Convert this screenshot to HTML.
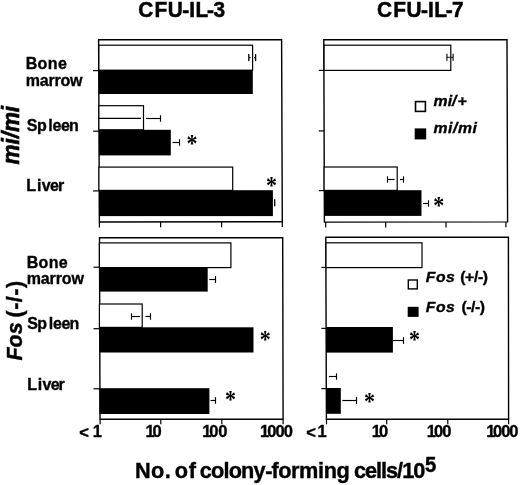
<!DOCTYPE html>
<html><head><meta charset="utf-8"><title>CFU-IL-3 / CFU-IL-7</title>
<style>html,body{margin:0;padding:0;background:#fff}svg{display:block}text{font-family:"Liberation Sans",sans-serif;font-weight:bold;fill:#000;font-kerning:none}.i{font-style:italic}.s{font-family:"Liberation Serif",serif;font-weight:bold}</style></head><body>
<svg width="520" height="485" viewBox="0 0 520 485">
<rect width="520" height="485" fill="#fff"/>
<path d="M99.4 222.0 L98.6 39.6 L281.6 39.8 L282.3 221.7 Z" fill="none" stroke="#000" stroke-width="1.4"/>
<line x1="99.4" y1="222.0" x2="99.4" y2="227.4" stroke="#000" stroke-width="1.2"/>
<line x1="160.6" y1="221.9" x2="160.6" y2="227.3" stroke="#000" stroke-width="1.2"/>
<line x1="221.6" y1="221.8" x2="221.6" y2="227.2" stroke="#000" stroke-width="1.2"/>
<line x1="282.3" y1="221.7" x2="282.3" y2="227.1" stroke="#000" stroke-width="1.2"/>
<line x1="93.1" y1="70.6" x2="98.9" y2="70.6" stroke="#000" stroke-width="1.2"/>
<line x1="93.1" y1="131.2" x2="98.9" y2="131.2" stroke="#000" stroke-width="1.2"/>
<line x1="93.1" y1="190.9" x2="98.9" y2="190.9" stroke="#000" stroke-width="1.2"/>
<rect x="98.9" y="45.2" width="153.7" height="25.0" fill="#fff" stroke="#000" stroke-width="1.2"/>
<line x1="248.8" y1="57.6" x2="250.6" y2="57.6" stroke="#000" stroke-width="1.1"/>
<line x1="254.0" y1="57.6" x2="255.6" y2="57.6" stroke="#000" stroke-width="1.1"/>
<line x1="248.8" y1="54.1" x2="248.8" y2="61.1" stroke="#000" stroke-width="1.3"/>
<line x1="255.6" y1="54.1" x2="255.6" y2="61.1" stroke="#000" stroke-width="1.3"/>
<rect x="98.9" y="70.0" width="153.9" height="24.0" fill="#000"/>
<rect x="98.9" y="105.7" width="44.6" height="24.1" fill="#fff" stroke="#000" stroke-width="1.2"/>
<line x1="98.9" y1="118.4" x2="141.0" y2="118.4" stroke="#000" stroke-width="1.2"/>
<line x1="146.0" y1="118.5" x2="160.5" y2="118.5" stroke="#000" stroke-width="1.15"/>
<line x1="160.5" y1="115.3" x2="160.5" y2="121.7" stroke="#000" stroke-width="1.15"/>
<rect x="98.9" y="129.8" width="71.9" height="25.6" fill="#000"/>
<line x1="172.5" y1="142.5" x2="179.5" y2="142.5" stroke="#000" stroke-width="1.15"/>
<line x1="179.5" y1="139.3" x2="179.5" y2="145.7" stroke="#000" stroke-width="1.15"/>
<text class="s" transform="translate(192,140.3) scale(1,1.14)" x="-5.5" y="10.37" font-size="22">*</text>
<rect x="98.9" y="167.1" width="133.8" height="23.3" fill="#fff" stroke="#000" stroke-width="1.2"/>
<rect x="98.9" y="190.2" width="174.0" height="25.9" fill="#000"/>
<line x1="274.7" y1="199.2" x2="274.7" y2="206.2" stroke="#000" stroke-width="1.3"/>
<text class="s" transform="translate(271.6,181.9) scale(1,1.14)" x="-5.5" y="10.37" font-size="22">*</text>
<path d="M324.4 222.1 L323.8 39.7 L507.0 39.8 L507.6 221.9 Z" fill="none" stroke="#000" stroke-width="1.4"/>
<line x1="325.7" y1="222.1" x2="325.7" y2="227.5" stroke="#000" stroke-width="1.2"/>
<line x1="385.7" y1="222.0" x2="385.7" y2="227.4" stroke="#000" stroke-width="1.2"/>
<line x1="446.0" y1="222.0" x2="446.0" y2="227.4" stroke="#000" stroke-width="1.2"/>
<line x1="505.9" y1="221.9" x2="505.9" y2="227.3" stroke="#000" stroke-width="1.2"/>
<line x1="318.8" y1="70.4" x2="324.1" y2="70.4" stroke="#000" stroke-width="1.2"/>
<line x1="318.8" y1="130.9" x2="324.1" y2="130.9" stroke="#000" stroke-width="1.2"/>
<line x1="318.8" y1="190.6" x2="324.1" y2="190.6" stroke="#000" stroke-width="1.2"/>
<rect x="324.1" y="45.2" width="126.7" height="25.2" fill="#fff" stroke="#000" stroke-width="1.2"/>
<line x1="446.9" y1="57.3" x2="453.1" y2="57.3" stroke="#000" stroke-width="0.9"/>
<line x1="446.9" y1="53.8" x2="446.9" y2="60.8" stroke="#000" stroke-width="1.1"/>
<line x1="453.1" y1="53.8" x2="453.1" y2="60.8" stroke="#000" stroke-width="1.1"/>
<rect x="415.5" y="101.6" width="9.9" height="9.8" fill="#fff" stroke="#000" stroke-width="1.6"/>
<rect x="414.7" y="128.4" width="11.5" height="11.0" fill="#000"/>
<text transform="translate(0,105.9) scale(1.04,1)" x="416.86 430.44 434.73 439.84" y="0" font-size="15.2" class="i" stroke="#000" stroke-width="0.35">mi/+</text>
<text transform="translate(0,133.1) scale(1.04,1)" x="416.86 430.85 435.56 440.27 454.27" y="0" font-size="15.2" class="i" stroke="#000" stroke-width="0.35">mi/mi</text>
<rect x="324.1" y="167.0" width="73.1" height="23.4" fill="#fff" stroke="#000" stroke-width="1.2"/>
<line x1="394.5" y1="179.5" x2="387.5" y2="179.5" stroke="#000" stroke-width="1.15"/>
<line x1="387.5" y1="176.3" x2="387.5" y2="182.7" stroke="#000" stroke-width="1.15"/>
<line x1="400.0" y1="179.5" x2="403.5" y2="179.5" stroke="#000" stroke-width="1.15"/>
<line x1="403.5" y1="176.3" x2="403.5" y2="182.7" stroke="#000" stroke-width="1.15"/>
<rect x="324.1" y="190.2" width="97.4" height="25.7" fill="#000"/>
<line x1="423.0" y1="203.5" x2="428.5" y2="203.5" stroke="#000" stroke-width="1.15"/>
<line x1="428.5" y1="200.3" x2="428.5" y2="206.7" stroke="#000" stroke-width="1.15"/>
<text class="s" transform="translate(438.8,202) scale(1,1.14)" x="-5.5" y="10.37" font-size="22">*</text>
<path d="M100.0 419.3 L99.5 237.7 L282.7 237.7 L283.1 419.3 Z" fill="none" stroke="#000" stroke-width="1.4"/>
<line x1="100.1" y1="419.3" x2="100.1" y2="424.3" stroke="#000" stroke-width="1.2"/>
<line x1="160.8" y1="419.3" x2="160.8" y2="424.3" stroke="#000" stroke-width="1.2"/>
<line x1="221.8" y1="419.3" x2="221.8" y2="424.3" stroke="#000" stroke-width="1.2"/>
<line x1="283.1" y1="419.3" x2="283.1" y2="424.3" stroke="#000" stroke-width="1.2"/>
<line x1="93.5" y1="267.2" x2="99.4" y2="267.2" stroke="#000" stroke-width="1.2"/>
<line x1="93.5" y1="328.7" x2="99.4" y2="328.7" stroke="#000" stroke-width="1.2"/>
<line x1="93.5" y1="388.8" x2="99.4" y2="388.8" stroke="#000" stroke-width="1.2"/>
<rect x="99.4" y="242.9" width="131.5" height="24.7" fill="#fff" stroke="#000" stroke-width="1.2"/>
<rect x="99.4" y="267.0" width="108.3" height="24.6" fill="#000"/>
<line x1="209.3" y1="279.5" x2="215.5" y2="279.5" stroke="#000" stroke-width="1.15"/>
<line x1="215.5" y1="276.1" x2="215.5" y2="282.9" stroke="#000" stroke-width="1.15"/>
<rect x="99.4" y="304.0" width="42.8" height="23.4" fill="#fff" stroke="#000" stroke-width="1.2"/>
<line x1="140.0" y1="316.5" x2="131.5" y2="316.5" stroke="#000" stroke-width="1.15"/>
<line x1="131.5" y1="313.3" x2="131.5" y2="319.7" stroke="#000" stroke-width="1.15"/>
<line x1="145.5" y1="316.5" x2="150.5" y2="316.5" stroke="#000" stroke-width="1.15"/>
<line x1="150.5" y1="313.3" x2="150.5" y2="319.7" stroke="#000" stroke-width="1.15"/>
<rect x="99.4" y="327.3" width="154.1" height="25.2" fill="#000"/>
<text class="s" transform="translate(265.3,335.9) scale(1,1.14)" x="-5.5" y="10.37" font-size="22">*</text>
<rect x="99.4" y="388.2" width="110.0" height="25.8" fill="#000"/>
<line x1="210.5" y1="400.5" x2="215.5" y2="400.5" stroke="#000" stroke-width="1.15"/>
<line x1="215.5" y1="397.2" x2="215.5" y2="403.8" stroke="#000" stroke-width="1.15"/>
<text class="s" transform="translate(230.4,396.1) scale(1,1.14)" x="-5.5" y="10.37" font-size="22">*</text>
<path d="M326.4 419.3 L325.8 237.3 L508.4 237.2 L508.6 419.3 Z" fill="none" stroke="#000" stroke-width="1.4"/>
<line x1="326.5" y1="419.3" x2="326.5" y2="424.3" stroke="#000" stroke-width="1.2"/>
<line x1="386.7" y1="419.3" x2="386.7" y2="424.3" stroke="#000" stroke-width="1.2"/>
<line x1="447.8" y1="419.3" x2="447.8" y2="424.3" stroke="#000" stroke-width="1.2"/>
<line x1="508.6" y1="419.3" x2="508.6" y2="424.3" stroke="#000" stroke-width="1.2"/>
<line x1="321.4" y1="267.4" x2="326.0" y2="267.4" stroke="#000" stroke-width="1.2"/>
<line x1="321.4" y1="328.4" x2="326.0" y2="328.4" stroke="#000" stroke-width="1.2"/>
<line x1="321.4" y1="388.6" x2="326.0" y2="388.6" stroke="#000" stroke-width="1.2"/>
<rect x="326.0" y="242.8" width="96.0" height="24.8" fill="#fff" stroke="#000" stroke-width="1.2"/>
<rect x="408.3" y="280.0" width="9.0" height="8.9" fill="#fff" stroke="#000" stroke-width="1.4"/>
<rect x="407.7" y="306.8" width="10.9" height="10.1" fill="#000"/>
<text transform="translate(0,282.4) scale(1.04,1)" x="409.35 419.15 428.95" y="0" font-size="15.1" class="i" stroke="#000" stroke-width="0.35">Fos</text>
<text transform="translate(0,282.4) scale(1.04,1)" x="442.52 447.22 455.71 459.58 464.28" y="0" font-size="15.1" stroke="#000" stroke-width="0.35">(+/-)</text>
<text transform="translate(0,311.8) scale(1.04,1)" x="409.35 419.15 428.95" y="0" font-size="15.1" class="i" stroke="#000" stroke-width="0.35">Fos</text>
<text transform="translate(0,311.8) scale(1.04,1)" x="443.86 448.43 453.00 456.73 461.30" y="0" font-size="15.1" stroke="#000" stroke-width="0.35">(-/-)</text>
<rect x="326.0" y="327" width="66.9" height="25.6" fill="#000"/>
<line x1="393.0" y1="340.5" x2="403.5" y2="340.5" stroke="#000" stroke-width="1.15"/>
<line x1="403.5" y1="337.1" x2="403.5" y2="343.9" stroke="#000" stroke-width="1.15"/>
<text class="s" transform="translate(414.4,335.9) scale(1,1.14)" x="-5.5" y="10.37" font-size="22">*</text>
<line x1="328.9" y1="376.5" x2="336.5" y2="376.5" stroke="#000" stroke-width="1.15"/>
<line x1="336.5" y1="373.3" x2="336.5" y2="379.7" stroke="#000" stroke-width="1.15"/>
<rect x="326.0" y="388" width="14.8" height="25.8" fill="#000"/>
<line x1="342.3" y1="400.5" x2="356.5" y2="400.5" stroke="#000" stroke-width="1.15"/>
<line x1="356.5" y1="397.1" x2="356.5" y2="403.9" stroke="#000" stroke-width="1.15"/>
<text class="s" transform="translate(369.6,398.2) scale(1,1.14)" x="-5.5" y="10.37" font-size="22">*</text>
<text transform="translate(0,437.25)" x="79.31 90.00 92.78" y="0" dy="0.8 -0.8" font-size="16.5" stroke="#000" stroke-width="0.35">&lt; 1</text>
<text transform="translate(0,437.25)" x="145.48 152.45" y="0" font-size="16.5" stroke="#000" stroke-width="0.35">10</text>
<text transform="translate(0,437.25)" x="202.18 209.35 218.15" y="0" font-size="16.5" stroke="#000" stroke-width="0.35">100</text>
<text transform="translate(0,437.25)" x="260.08 267.25 275.55 283.85" y="0" font-size="16.5" stroke="#000" stroke-width="0.35">1000</text>
<text transform="translate(0,437.25)" x="306.21 317.58" y="0" dy="0.8 -0.8" font-size="16.5" stroke="#000" stroke-width="0.35">&lt;1</text>
<text transform="translate(0,437.25)" x="371.78 378.95" y="0" font-size="16.5" stroke="#000" stroke-width="0.35">10</text>
<text transform="translate(0,437.25)" x="426.78 433.95 442.35" y="0" font-size="16.5" stroke="#000" stroke-width="0.35">100</text>
<text transform="translate(0,437.25)" x="486.28 493.05 501.25 509.35" y="0" font-size="16.5" stroke="#000" stroke-width="0.35">1000</text>
<text transform="translate(0,16.9) scale(0.96,1)" x="143.90 160.84 174.63 189.78 197.09 203.55 215.51 222.42" y="0" font-size="21.7" stroke="#000" stroke-width="0.5">CFU-IL-3</text>
<text transform="translate(0,16.9) scale(0.96,1)" x="392.76 409.69 423.49 438.63 445.94 452.40 464.36 470.84" y="0" font-size="21.7" stroke="#000" stroke-width="0.5">CFU-IL-7</text>
<text transform="translate(0,478.3) scale(0.97,1)" x="139.12 155.68 169.75 174.90 180.05 194.56 200.27 205.98 217.57 230.39 235.74 248.56 261.37 273.56 279.82 286.85 300.09 308.37 327.85 333.64 346.89 355.89 364.90 376.30 387.70 392.86 398.02 409.42 414.59 425.99" y="0" font-size="22.4" stroke="#000" stroke-width="0.4">No. of colony-forming cells/10</text>
<text transform="translate(0,472.3) scale(0.93,1)" x="456.96" y="0" font-size="21.8" stroke="#000" stroke-width="0.4">5</text>
<text transform="translate(0,68.7)" x="25.63 37.62 47.84 58.05" y="0" font-size="16" stroke="#000" stroke-width="0.35">Bone</text>
<text transform="translate(0,85.5)" x="25.65 39.70 48.42 54.47 60.52 70.12" y="0" font-size="16" stroke="#000" stroke-width="0.35">marrow</text>
<text transform="translate(0,130.7)" x="26.74 36.95 48.18 52.48 60.88 69.05" y="0" font-size="16" stroke="#000" stroke-width="0.35">Spleen</text>
<text transform="translate(0,190.7)" x="26.33 36.88 41.74 49.98 57.95" y="0" font-size="16" stroke="#000" stroke-width="0.35">Liver</text>
<text transform="translate(0,268.1)" x="26.63 38.52 48.64 58.75" y="0" font-size="16" stroke="#000" stroke-width="0.35">Bone</text>
<text transform="translate(0,284.3)" x="26.65 40.76 49.54 55.65 61.76 71.42" y="0" font-size="16" stroke="#000" stroke-width="0.35">marrow</text>
<text transform="translate(0,329.1)" x="27.34 37.15 48.68 52.98 61.38 69.55" y="0" font-size="16" stroke="#000" stroke-width="0.35">Spleen</text>
<text transform="translate(0,389.7)" x="27.23 37.78 42.44 50.67 58.55" y="0" font-size="16" stroke="#000" stroke-width="0.35">Liver</text>
<text transform="translate(18.8,0) scale(1.06,1) rotate(-90)" y="0" font-size="22.5" stroke="#000" stroke-width="0.6"><tspan class="i" x="-164.58 -144.59 -138.36 -132.13 -112.14">mi/mi</tspan></text>
<text transform="translate(22.2,0) scale(1.0,1) rotate(-90)" y="0" font-size="21.4" stroke="#000" stroke-width="0.4"><tspan class="i" x="-360.58 -347.42 -334.27">Fos</tspan><tspan x="-323.89"> </tspan><tspan x="-317.47 -309.82 -302.17 -295.71 -288.06">(-/-)</tspan></text>
</svg></body></html>
